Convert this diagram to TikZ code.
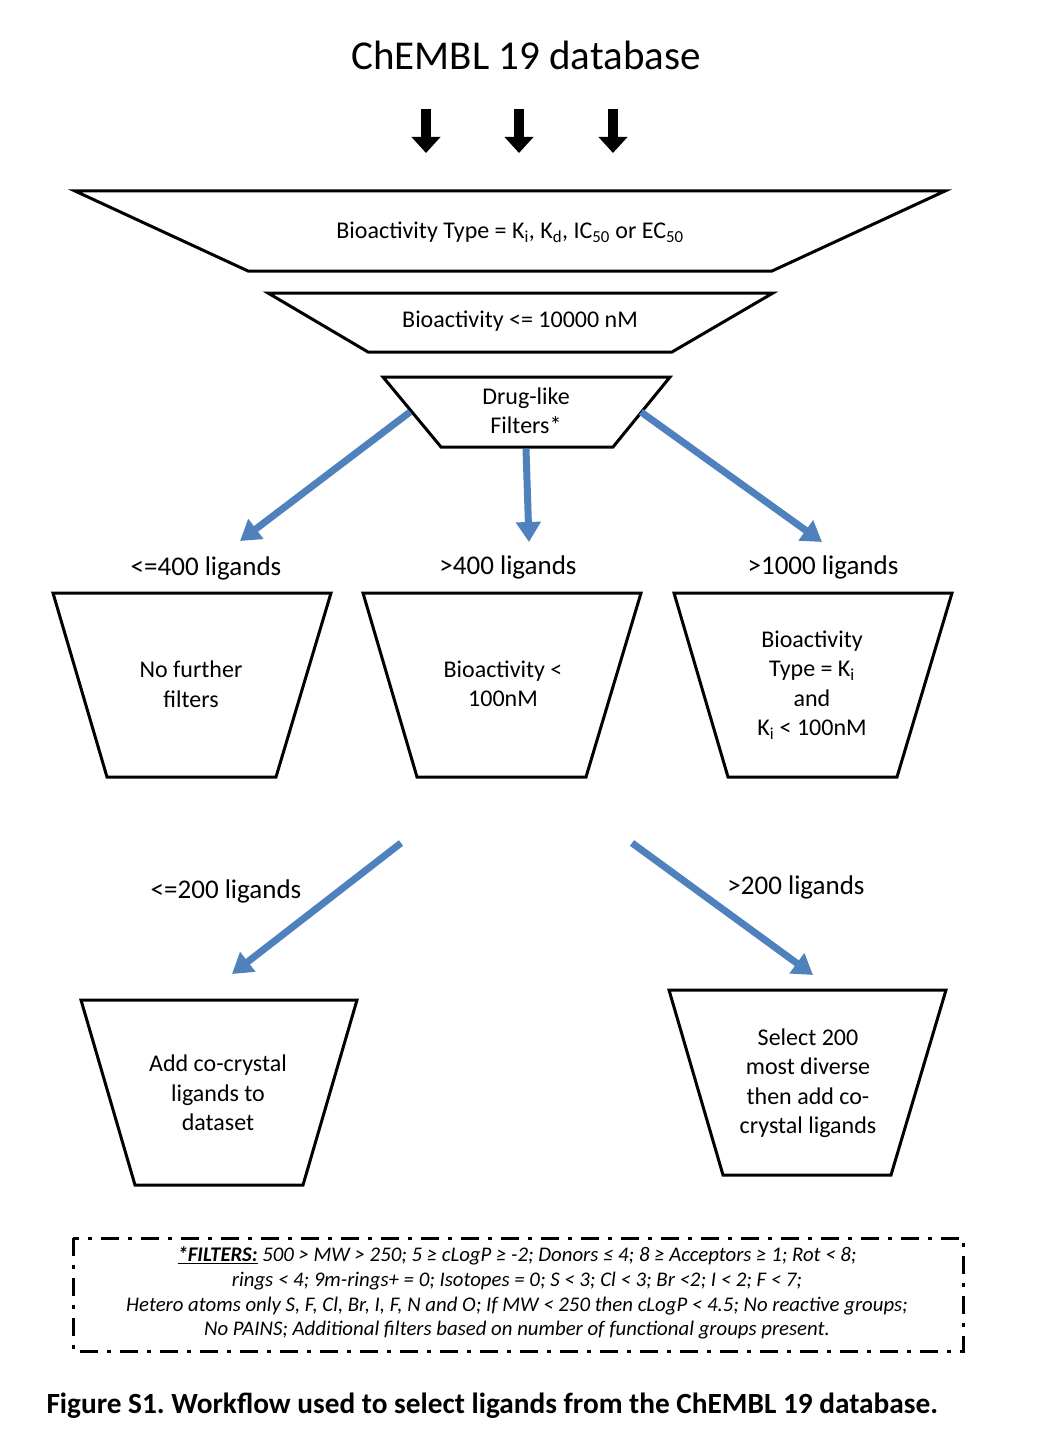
\documentclass[tikz,border=0pt]{standalone}
\usepackage{fontspec}
\setmainfont{Carlito}
\usetikzlibrary{arrows.meta}
\definecolor{flowblue}{RGB}{79,129,189}
\frenchspacing
\begin{document}
\begin{tikzpicture}[x=1pt,y=-1pt,font=\fontsize{24}{29.5}\selectfont,align=center,
	funnel/.style={line width=3pt},
	blackarrow/.style={line width=10pt,-{Triangle[width=28pt,length=16pt]}},
	bluearrow/.style={draw=flowblue,line width=7pt,-{Triangle[width=24pt,length=20pt]}},
	countlabel/.style={font=\fontsize{27}{32}\selectfont}]
	\useasboundingbox (0,0) rectangle (1040,1450);
	\node[font=\fontsize{41}{48}\selectfont] (db) at (526,55) {ChEMBL 19 database};
	\foreach \x in {426,519,613}{
		\draw[blackarrow] (\x,109)--(\x,153);}
	\draw[funnel] (75,191)--(945,191)--(772,271)--(248,271)--cycle;
	\node (type) at (510,232) {Bioactivity Type = K\textsubscript{i}, K\textsubscript{d}, IC\textsubscript{50} or EC\textsubscript{50}};
	\draw[funnel] (268,293)--(773,293)--(672,352)--(368,352)--cycle;
	\node (act) at (520,321) {Bioactivity <= 10000 nM};
	\draw[funnel] (383,377)--(670,377)--(613,447)--(441,447)--cycle;
	\node (drug) at (526,411) {Drug-like\\Filters*};
	\coordinate (drugL) at (410,412);
	\coordinate (drugM) at (526,449);
	\coordinate (drugR) at (641,412);
	\coordinate (endA) at (240,541);
	\coordinate (endB) at (529,542);
	\coordinate (endC) at (822,542);
	\draw[bluearrow] (drugL)--(endA);
	\draw[bluearrow] (drugM)--(endB);
	\draw[bluearrow] (drugR)--(endC);
	\node[countlabel] (cntA) at (206,568) {<=400 ligands};
	\node[countlabel] (cntB) at (508,567) {>400 ligands};
	\node[countlabel] (cntC) at (823,567) {>1000 ligands};
	\foreach \x in {0,310,621}{
		\draw[funnel] (53+\x,593)--(331+\x,593)--(276+\x,777)--(107+\x,777)--cycle;}
	\node (nofilter) at (191,684) {No further\\filters};
	\node (strong) at (503,684) {Bioactivity <\\100nM};
	\node (kionly) at (812,685) {Bioactivity\\Type = K\textsubscript{i}\\and\\K\textsubscript{i} < 100nM};
	\coordinate (splitL) at (401,843);
	\coordinate (splitR) at (632,843);
	\coordinate (endD) at (232,974);
	\coordinate (endE) at (813,975);
	\draw[bluearrow] (splitL)--(endD);
	\draw[bluearrow] (splitR)--(endE);
	\node[countlabel] (cntD) at (226,891) {<=200 ligands};
	\node[countlabel] (cntE) at (796,887) {>200 ligands};
	\draw[funnel] (81,1000)--(357,1000)--(303,1185)--(135,1185)--cycle;
	\node (addxtal) at (218,1093) {Add co-crystal\\ligands to\\dataset};
	\draw[funnel] (669,990)--(946,990)--(891,1175)--(723,1175)--cycle;
	\node (diverse) at (808,1083) {Select 200\\most diverse\\then add co-\\crystal ligands};
	\draw[line width=3pt,dash pattern=on 18pt off 9pt on 4pt off 9pt] (73,1238) rectangle (963,1351);
	\node[font=\fontsize{20.8}{24.7}\selectfont\itshape] (filters) at (517,1293) {\underline{\textbf{*FILTERS:}} 500 > MW > 250; 5 ≥ cLogP ≥ -2; Donors ≤ 4; 8 ≥ Acceptors ≥ 1; Rot < 8;\\rings < 4; 9m-rings+ = 0; Isotopes = 0; S < 3; Cl < 3; Br <2; I < 2; F < 7;\\Hetero atoms only S, F, Cl, Br, I, F, N and O; If MW < 250 then cLogP < 4.5; No reactive groups;\\No PAINS; Additional filters based on number of functional groups present.};
	\node[anchor=west,font=\fontsize{29.3}{35}\selectfont\bfseries] (caption) at (43,1406) {Figure S1. Workflow used to select ligands from the ChEMBL 19 database.};
\end{tikzpicture}
\end{document}
